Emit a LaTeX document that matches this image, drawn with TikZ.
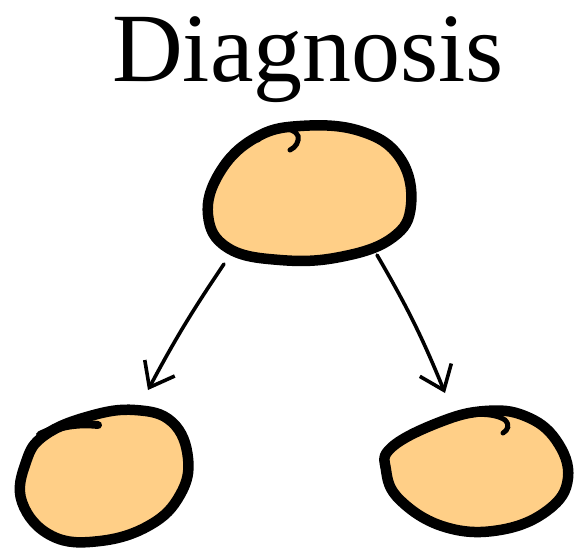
\documentclass[tikz,border=0pt]{standalone}
\usepackage{fontspec}
\setmainfont{Liberation Serif}
\usetikzlibrary{arrows.meta,shapes.geometric}
\definecolor{blob}{RGB}{255,207,135}
\begin{document}
\begin{tikzpicture}[x=1pt,y=-1pt,
  blobline/.style={draw=black,line width=10.5pt,fill=blob,line join=round},
  hookline/.style={draw=black,line width=5pt,line cap=round},
  arrowline/.style={draw=black,line width=3.6pt,line cap=round,
    -{Straight Barb[length=22pt,width=34pt,line width=3.6pt]}},
  titletext/.style={font=\fontsize{98}{110}\selectfont,anchor=base,inner sep=0pt}]
\useasboundingbox (0,0) rectangle (575,547);
\node[titletext] (title) at (308,81) {Diagnosis};
% top blob
\draw[blobline] plot[smooth cycle,tension=0.7] coordinates
  {(255,138) (300,126) (360,131) (400,158) (411,205) (392,238) (340,257) (280,260) (228,248) (208,215) (220,172)};
\draw[hookline] (258,140) .. controls (270,126) and (295,126) .. (298,136) .. controls (299,142) and (296,147) .. (290,150);
\node[inner sep=0pt,minimum width=206pt,minimum height=134pt,ellipse] (top) at (310,193) {};
% bottom left blob
\draw[blobline] plot[smooth cycle,tension=0.7] coordinates
  {(45,435) (90,416) (135,410) (172,422) (188,458) (180,495) (150,525) (100,541) (52,536) (22,502) (26,462)};
\draw[black,line width=8pt,line cap=round] (40,435) .. controls (60,425) and (80,423) .. (98,425);
\node[inner sep=0pt,minimum width=172pt,minimum height=132pt,ellipse] (left) at (104,476) {};
% bottom right blob
\draw[blobline] plot[smooth cycle,tension=0.7] coordinates
  {(392,447) (440,422) (485,411) (525,416) (556,440) (568,478) (548,510) (500,530) (445,527) (400,500) (386,470)};
\draw[hookline] (450,420) .. controls (470,412) and (495,413) .. (505,420) .. controls (510,425) and (508,430) .. (503,433);
\node[inner sep=0pt,minimum width=186pt,minimum height=128pt,ellipse] (right) at (477,471) {};
% arrows
\coordinate (a1s) at (224,264);
\coordinate (a1e) at (148,390);
\coordinate (a2s) at (377,255);
\coordinate (a2e) at (445,393);
\draw[arrowline] (a1s) to[bend right=3] (a1e);
\draw[arrowline] (a2s) to[bend left=4] (a2e);
\end{tikzpicture}
\end{document}
